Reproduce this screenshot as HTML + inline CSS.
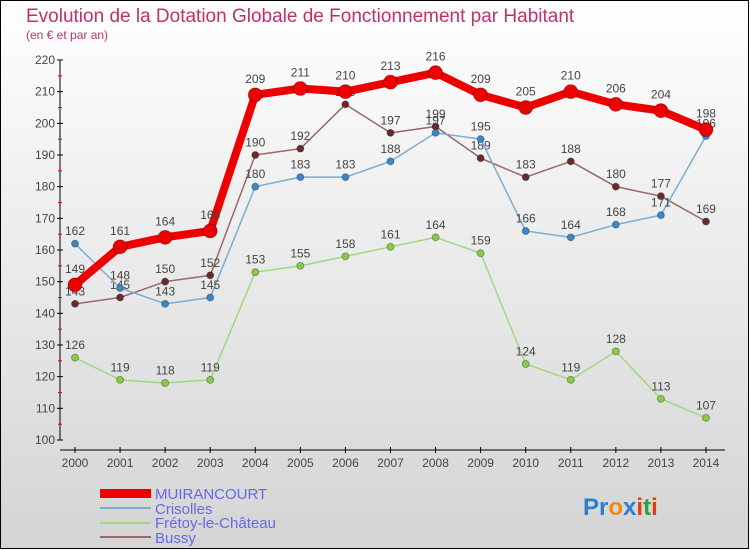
<!DOCTYPE html>
<html><head><meta charset="utf-8"><style>
body{margin:0}
svg{display:block;font-family:"Liberation Sans",sans-serif}
</style></head><body>
<svg id="c" width="750" height="550" xmlns="http://www.w3.org/2000/svg">
<defs><linearGradient id="bg" x1="0" y1="0" x2="0" y2="1"><stop offset="0" stop-color="#ffffff"/><stop offset="1" stop-color="#d4d4d4"/></linearGradient></defs>
<rect x="0.5" y="0.5" width="748" height="548" fill="url(#bg)" stroke="#000"/>
<text x="26" y="22" font-size="19" fill="#c0306a">Evolution de la Dotation Globale de Fonctionnement par Habitant</text>
<text x="26" y="39" font-size="12" fill="#c0306a">(en € et par an)</text>
<g id="axes"></g><g id="series"></g>
<g>
<rect x="100" y="489" width="51" height="9" fill="#e00"/>
<text x="155" y="499" font-size="15" fill="#6666ee">MUIRANCOURT</text>
<rect x="100" y="507" width="51" height="2" fill="#7aaed0"/>
<text x="155" y="514" font-size="15" fill="#6666ee">Crisolles</text>
<rect x="100" y="522" width="51" height="2" fill="#a0d880"/>
<text x="155" y="528" font-size="15" fill="#6666ee">Frétoy-le-Château</text>
<rect x="100" y="536" width="51" height="2" fill="#986868"/>
<text x="155" y="543" font-size="15" fill="#6666ee">Bussy</text>
</g>
<text x="583" y="515" font-size="24" font-weight="bold"><tspan fill="#2a7fd0">Pr</tspan><tspan fill="#f08a10">o</tspan><tspan fill="#2a7fd0">x</tspan><tspan fill="#e04010">i</tspan><tspan fill="#30a040">t</tspan><tspan fill="#e04010">i</tspan></text>
</svg>
<script>
const years=[2000,2001,2002,2003,2004,2005,2006,2007,2008,2009,2010,2011,2012,2013,2014];
const yTicks=[100,110,120,130,140,150,160,170,180,190,200,210,220];
const muirancourt=[149,161,164,166,209,211,210,213,216,209,205,210,206,204,198];
const crisolles=[162,148,143,145,180,183,183,188,197,195,166,164,168,171,196];
const fretoy=[126,119,118,119,153,155,158,161,164,159,124,119,128,113,107];
const bussy=[143,145,150,152,190,192,206,197,199,189,183,188,180,177,169];
const NS="http://www.w3.org/2000/svg";
const xS=i=>75+i*45.07, yS=v=>440-(v-100)*380/120;
function mk(t,a,p){const e=document.createElementNS(NS,t);for(const k in a)e.setAttribute(k,a[k]);p.appendChild(e);return e;}
const ax=document.getElementById('axes');
let l=mk('line',{x1:60,y1:60,x2:60,y2:440,stroke:'#000'},ax);

l=mk('line',{x1:60,y1:450,x2:725,y2:450,stroke:'#000'},ax);

yTicks.forEach((v,k)=>{const y=yS(v);
 mk('line',{x1:57,y1:y,x2:63,y2:y,stroke:'#000'},ax);
 if(k<yTicks.length-1)mk('line',{x1:58,y1:y-15.8,x2:62,y2:y-15.8,stroke:'#e00'},ax);
 const t=mk('text',{x:55,y:y+4,'font-size':12,fill:'#444','text-anchor':'end'},ax);t.textContent=v;
 });
years.forEach((yr,i)=>{const x=xS(i);
 mk('line',{x1:x,y1:447,x2:x,y2:453,stroke:'#000'},ax);
 const t=mk('text',{x:x,y:467,'font-size':12,fill:'#444','text-anchor':'middle'},ax);t.textContent=yr;
 });
const sg=document.getElementById('series');
function draw(name,vals,color,w,r,dot){
 const g=mk('g',{},sg);
 const p=mk('polyline',{points:vals.map((v,i)=>xS(i)+','+yS(v)).join(' '),fill:'none',stroke:color,'stroke-width':w,'stroke-linejoin':'round'},g);
 
 vals.forEach((v,i)=>{const c=mk('circle',{cx:xS(i),cy:yS(v),r:r,fill:dot,stroke:'rgba(0,0,0,0.3)'},g);
  
  const t=mk('text',{x:xS(i),y:yS(v)-(r+5),'font-size':12,fill:'#444','text-anchor':'middle'},g);t.textContent=v;
  });
}
draw('fretoy',fretoy,'#a0d880',1.5,3.5,'#88cc44');
draw('bussy',bussy,'#986868',1.5,3.5,'#6a2a2a');
draw('crisolles',crisolles,'#7aaed0',1.5,3.5,'#3a88c8');
draw('muirancourt',muirancourt,'#ee0000',8,7,'#ee0000');
</script>
</body></html>
